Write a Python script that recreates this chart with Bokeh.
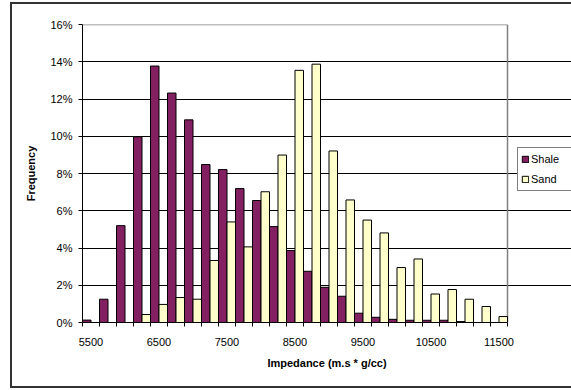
from bokeh.plotting import figure
from bokeh.models import (ColumnDataSource, FixedTicker, PrintfTickFormatter,
                          Legend, LegendItem, Range1d)
from bokeh.embed import file_html
from bokeh.resources import INLINE

# ---- data ----
impedance = [5500, 5750, 6000, 6250, 6500, 6750, 7000, 7250, 7500, 7750,
             8000, 8250, 8500, 8750, 9000, 9250, 9500, 9750, 10000, 10250,
             10500, 10750, 11000, 11250, 11500]
shale_pct = [0.13, 1.25, 5.2, 9.97, 13.77, 12.32, 10.88, 8.48, 8.21, 7.19,
             6.55, 5.15, 3.86, 2.75, 1.89, 1.41, 0.5, 0.28, 0.17, 0.12,
             0.12, 0.12, 0.05, 0.0, 0.0]
sand_pct = [0.0, 0.0, 0.0, 0.43, 0.97, 1.34, 1.25, 3.33, 5.4, 4.06,
            7.02, 8.99, 13.54, 13.87, 9.21, 6.58, 5.5, 4.81, 2.95, 3.41,
            1.53, 1.77, 1.25, 0.86, 0.32]
y_ticks = [0, 2, 4, 6, 8, 10, 12, 14, 16]
x_label_step = 4
series_names = ["Shale", "Sand"]

FONT = "Liberation Sans"
SHALE_COLOR = "#822062"
SAND_COLOR = "#FFFFCC"

# ---- geometry ----
W, H = 571, 390
LEFT, TOP, BOTTOM = 82, 24, 68
PLOT_W = 425                      # width of the plot area (bars region)
n = len(impedance)
px_per_cat = PLOT_W / n
x_lo, x_hi = -0.5, n - 0.5
x_end = x_hi + (W - LEFT - PLOT_W) / px_per_cat   # frame extends under legend

idx = list(range(n))
src = ColumnDataSource(dict(
    i=idx,
    xs=[k - 0.25 for k in idx],
    xd=[k + 0.25 for k in idx],
    shale=shale_pct,
    sand=sand_pct,
))

p = figure(width=W, height=H, output_backend="svg", toolbar_location=None,
           x_range=Range1d(x_lo, x_end), y_range=Range1d(y_ticks[0], y_ticks[-1]),
           min_border_left=LEFT, min_border_right=0, min_border_top=TOP,
           min_border_bottom=BOTTOM)
p.background_fill_color = "white"
p.border_fill_color = None
p.outline_line_color = None

# outer chart border drawn as CSS background of the plot element
p.styles = {
    "background-color": "white",
    "background-image": ("linear-gradient(#333333, #333333), "
                         "linear-gradient(#333333, #333333), "
                         "linear-gradient(#333333, #333333)"),
    "background-size": "2px 385px, 562px 2px, 562px 2px",
    "background-position": "10px 2px, 10px 2px, 10px 386px",
    "background-repeat": "no-repeat",
}

# gridlines limited to the plot area
p.xgrid.grid_line_color = None
p.ygrid.ticker = FixedTicker(ticks=y_ticks[1:-1])
p.ygrid.bounds = (x_lo, x_hi)
p.ygrid.grid_line_color = "black"
p.ygrid.grid_line_width = 1

# plot area border (top and right, gray)
p.segment(x0=[x_lo, x_hi], y0=[y_ticks[-1], y_ticks[0]],
          x1=[x_hi, x_hi], y1=[y_ticks[-1], y_ticks[-1]],
          line_color="#808080", line_width=1.5)

r_shale = p.vbar(x="xs", top="shale", width=0.5, bottom=0, source=src,
                 fill_color=SHALE_COLOR, line_color="black", line_width=1)
r_sand = p.vbar(x="xd", top="sand", width=0.5, bottom=0, source=src,
                fill_color=SAND_COLOR, line_color="black", line_width=1)

# x axis: category boundary ticks, labels every 4th category
label_idx = idx[::x_label_step]
p.xaxis.bounds = (x_lo, x_hi)
p.xaxis.ticker = FixedTicker(ticks=label_idx,
                             minor_ticks=[k - 0.5 for k in idx] + [x_hi])
p.xaxis.major_label_overrides = {k: str(impedance[k]) for k in label_idx}
p.xaxis.major_tick_line_color = None
p.xaxis.minor_tick_line_color = "black"
p.xaxis.minor_tick_in = 0
p.xaxis.minor_tick_out = 4
p.xaxis.axis_line_color = "black"
p.xaxis.major_label_standoff = 9
p.xaxis.axis_label = "Impedance (m.s * g/cc)"
p.xaxis.axis_label_standoff = 8

# y axis
p.yaxis.ticker = FixedTicker(ticks=y_ticks, minor_ticks=[])
p.yaxis.formatter = PrintfTickFormatter(format="%d%%")
p.yaxis.major_tick_in = 0
p.yaxis.major_tick_out = 4
p.yaxis.major_tick_line_color = "black"
p.yaxis.axis_line_color = "black"
p.yaxis.major_label_standoff = 6
p.yaxis.axis_label = "Frequency"
p.yaxis.axis_label_standoff = 10

for ax in (p.xaxis, p.yaxis):
    ax.major_label_text_font = FONT
    ax.major_label_text_font_size = "11px"
    ax.major_label_text_color = "black"
    ax.axis_label_text_font = FONT
    ax.axis_label_text_font_size = "11px"
    ax.axis_label_text_font_style = "bold"
    ax.axis_label_text_color = "black"

legend = Legend(items=[LegendItem(label=series_names[0], renderers=[r_shale]),
                       LegendItem(label=series_names[1], renderers=[r_sand])],
                location=(435, 131))
legend.label_text_font = FONT
legend.label_text_font_size = "11px"
legend.label_text_color = "black"
legend.glyph_width = 8
legend.glyph_height = 8
legend.label_height = 16
legend.label_width = 37
legend.label_standoff = 2
legend.padding = 3
legend.spacing = 4
legend.margin = 0
legend.border_line_color = "black"
legend.border_line_width = 1
legend.background_fill_color = "white"
legend.background_fill_alpha = 1
p.add_layout(legend, "center")

open("out.html", "w").write(file_html(p, INLINE))
